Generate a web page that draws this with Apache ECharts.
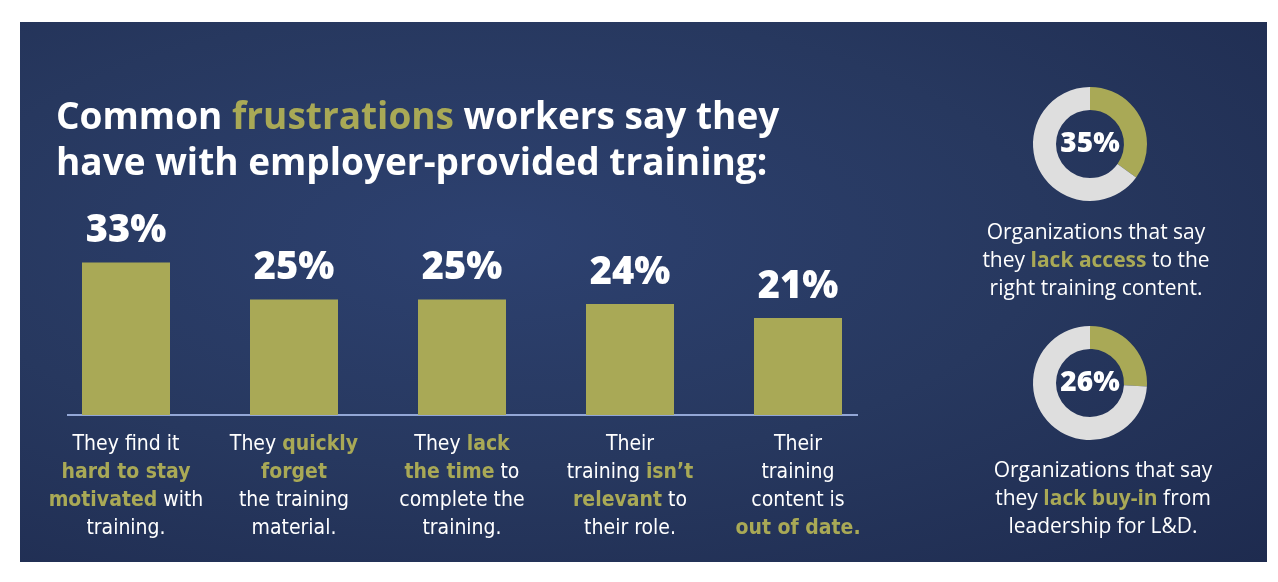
<!DOCTYPE html>
<html>
<head>
<meta charset="utf-8">
<script src="https://cdn.jsdelivr.net/npm/echarts@6/dist/echarts.min.js"></script>
<style>
  html, body { margin: 0; padding: 0; background: #ffffff; }
  .panel {
    position: absolute; left: 20px; top: 22px; width: 1247px; height: 540px;
    background: radial-gradient(ellipse at 38% 40%, #2d4170 0%, #27385f 50%, #1e2b4f 100%);
  }
  #main { position: absolute; left: 0; top: 0; width: 1278px; height: 582px; }
</style>
</head>
<body>
<div class="panel"></div>
<div id="main"></div>
<script>
// data
var categories = [
    'They find it\n{h|hard to stay}\n{h|motivated} with\ntraining.',
    'They {h|quickly}\n{h|forget}\nthe training\nmaterial.',
    'They {h|lack}\n{h|the time} to\ncomplete the\ntraining.',
    'Their\ntraining {h|isn\u2019t}\n{h|relevant} to\ntheir role.',
    'Their\ntraining\ncontent is\n{h|out of date.}'
];
var shares = [33, 25, 25, 24, 21];
var orgShares = [35, 26];
var orgTexts = [
    'Organizations that say\nthey {h|lack access} to the\nright training content.',
    'Organizations that say\nthey {h|lack buy-in} from\nleadership for L&D.'
];

var olive = '#a9a956';
var ringGrey = '#dedede';
var narrow = "'Liberation Sans Narrow', 'DejaVu Sans Condensed', Roboto, sans-serif";
var wide = "'Open Sans', sans-serif";

var chart = echarts.init(document.getElementById('main'));

function donut(value, cy) {
    return {
        type: 'pie',
        center: [1090, cy],
        radius: [34, 57],
        startAngle: 90,
        clockwise: true,
        silent: true,
        emphasis: { disabled: true },
        labelLine: { show: false },
        data: [
            {
                value: value,
                itemStyle: { color: olive },
                label: {
                    show: true, position: 'center', formatter: '{c}%',
                    color: '#ffffff', fontSize: 28, fontWeight: 800, fontFamily: wide
                }
            },
            { value: 100 - value, itemStyle: { color: ringGrey }, label: { show: false } }
        ]
    };
}

function orgTitle(txt, x, y) {
    return {
        left: x, top: y, textAlign: 'center',
        text: txt,
        textStyle: {
            color: '#ffffff', fontSize: 21, fontWeight: 400, lineHeight: 28, align: 'center',
            fontFamily: wide,
            rich: { h: { color: olive, fontSize: 21, fontWeight: 700, lineHeight: 28, fontFamily: wide } }
        }
    };
}

var option = {
    backgroundColor: 'transparent',
    title: [
        {
            left: 51, top: 90,
            text: 'Common {h|frustrations} workers say they\nhave with employer-provided training:',
            textStyle: {
                color: '#ffffff', fontSize: 37, fontWeight: 700, lineHeight: 46, fontFamily: wide,
                rich: { h: { color: olive, fontSize: 37, fontWeight: 700, lineHeight: 46, fontFamily: wide } }
            }
        },
        orgTitle(orgTexts[0], 1091, 214),
        orgTitle(orgTexts[1], 1098, 452)
    ],
    grid: { left: 42, right: 396, top: 230, bottom: 167 },
    xAxis: {
        type: 'category',
        data: categories,
        axisLine: { show: false },
        axisTick: { show: false },
        axisLabel: {
            interval: 0, margin: 16, color: '#ffffff', fontSize: 21, lineHeight: 28,
            fontFamily: narrow, align: 'center',
            rich: { h: { color: olive, fontSize: 21, lineHeight: 28, fontWeight: 700, fontFamily: narrow } }
        }
    },
    yAxis: { type: 'value', min: 0, max: 40, show: false, splitLine: { show: false } },
    graphic: [
        { type: 'line', shape: { x1: 67, y1: 415, x2: 858, y2: 415 }, style: { stroke: '#93a7d6', lineWidth: 2 }, silent: true }
    ],
    series: [
        {
            type: 'bar',
            data: shares,
            barWidth: 88,
            silent: true,
            itemStyle: { color: olive },
            label: {
                show: true, position: 'top', distance: 12, formatter: '{c}%',
                color: '#ffffff', fontSize: 38, fontWeight: 800, fontFamily: wide
            }
        },
        donut(orgShares[0], 144),
        donut(orgShares[1], 383)
    ]
};
chart.setOption(option);
</script>
</body>
</html>
